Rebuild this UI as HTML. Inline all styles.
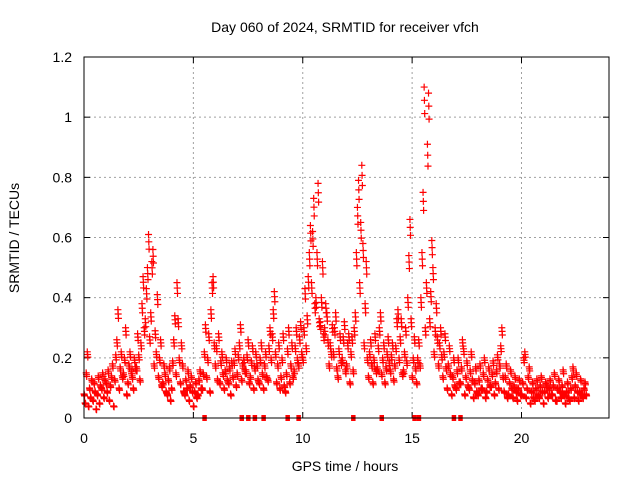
<!DOCTYPE html>
<html><head><meta charset="utf-8"><style>
body{margin:0;background:#fff}
svg{display:block;font-family:"Liberation Sans",sans-serif}
</style></head><body>
<svg id="chart" width="640" height="480" viewBox="0 0 640 480">
<rect width="640" height="480" fill="#fff"/>
<text x="345" y="32" font-size="14" text-anchor="middle">Day 060 of 2024, SRMTID for receiver vfch</text>
<text x="345" y="471" font-size="14" text-anchor="middle">GPS time / hours</text>
<text transform="translate(19,238) rotate(-90)" font-size="14" text-anchor="middle">SRMTID / TECUs</text>
<g id="grid"></g><g id="axes"></g><g id="marks"></g>
<rect x="84" y="57" width="525" height="361" fill="none" stroke="#000" stroke-width="1"/>
</svg>
<script>
const xTicks=[0,5,10,15,20];
const yTicks=[0,0.2,0.4,0.6,0.8,1,1.2];
const yTickLabels=["0","0.2","0.4","0.6","0.8","1","1.2"];
const rowTimes=[0.0,0.2,0.4,0.6,0.8,1.0,1.2,1.4,1.6,1.8,2.0,2.2,2.4,2.6,2.8,3.0,3.2,3.4,3.6,3.8,4.0,4.2,4.4,4.6,4.8,5.0,5.2,5.4,5.6,5.8,6.0,6.2,6.4,6.6,6.8,7.0,7.2,7.4,7.6,7.8,8.0,8.2,8.4,8.6,8.8,9.0,9.2,9.4,9.6,9.8,10.0,10.2,10.4,10.6,10.8,11.0,11.2,11.4,11.6,11.8,12.0,12.2,12.4,12.6,12.8,13.0,13.2,13.4,13.6,13.8,14.0,14.2,14.4,14.6,14.8,15.0,15.2,15.4,15.6,15.8,16.0,16.2,16.4,16.6,16.8,17.0,17.2,17.4,17.6,17.8,18.0,18.2,18.4,18.6,18.8,19.0,19.2,19.4,19.6,19.8,20.0,20.2,20.4,20.6,20.8,21.0,21.2,21.4,21.6,21.8,22.0,22.2,22.4,22.6,22.8];
const rowValues=[
[.08,.05,.15,.22],[.04,.10,.07,.13],[.06,.12,.09,.03],[.08,.14,.05,.11],[.10,.15,.07,.13],
[.12,.09,.16,.06],[.11,.14,.18,.04],[.13,.21,.26,.36],[.10,.17,.22,.14],[.15,.20,.30,.08],
[.12,.18,.22,.16],[.14,.10,.20,.17],[.17,.28,.21,.13],[.25,.38,.47,.30],[.33,.43,.50,.61],
[.27,.35,.52,.56],[.18,.29,.22,.41],[.14,.20,.26,.11],[.12,.18,.15,.09],[.08,.13,.17,.06],
[.10,.19,.26,.34],[.15,.45,.33,.20],[.12,.25,.18,.09],[.08,.13,.10,.16],[.06,.11,.14,.09],
[.04,.09,.12,.07],[.08,.13,.16,.10],[.10,.15,.22,.31],[.14,.20,.28,.09],[.36,.45,.47,.25],
[.18,.24,.13,.28],[.12,.19,.22,.15],[.10,.16,.20,.13],[.12,.17,.08,.19],[.14,.19,.23,.11],
[.15,.21,.25,.31],[.13,.18,.20,.16],[.16,.21,.26,.12],[.14,.19,.24,.10],[.17,.22,.18,.13],
[.12,.20,.25,.15],[.10,.18,.22,.14],[.13,.24,.30,.20],[.28,.36,.42,.22],[.12,.18,.25,.10],
[.14,.20,.28,.11],[.09,.15,.23,.30],[.12,.18,.25,.14],[.16,.24,.30,.20],[.18,.27,.32,.22],
[.20,.30,.43,.24],[.34,.47,.55,.64],[.45,.62,.73,.38],[.40,.55,.78,.33],[.32,.40,.52,.28],
[.30,.38,.35,.26],[.18,.25,.22,.31],[.22,.30,.35,.17],[.14,.23,.28,.19],[.20,.27,.32,.16],
[.18,.25,.28,.12],[.22,.27,.16,.30],[.35,.55,.70,.79],[.45,.65,.84,.58],[.25,.38,.52,.20],
[.14,.22,.26,.18],[.12,.20,.28,.16],[.17,.24,.30,.35],[.15,.20,.25,.12],[.17,.22,.27,.19],
[.16,.21,.25,.13],[.18,.24,.33,.36],[.20,.27,.33,.15],[.16,.22,.30,.19],[.40,.54,.66,.33],
[.14,.20,.27,.17],[.12,.20,.26,.18],[.40,.55,.75,1.10],[.30,.45,.91,1.08],[.33,.42,.59,.50],
[.22,.30,.38,.27],[.18,.25,.30,.21],[.14,.22,.28,.17],[.10,.18,.24,.15],[.08,.14,.20,.11],
[.10,.16,.20,.12],[.12,.17,.26,.23],[.08,.14,.19,.11],[.10,.16,.22,.13],[.07,.12,.17,.09],
[.08,.13,.18,.10],[.10,.15,.20,.07],[.09,.13,.17,.11],[.11,.15,.19,.08],[.12,.16,.21,.10],
[.18,.24,.30,.14],[.09,.14,.18,.07],[.08,.12,.16,.10],[.07,.11,.14,.09],[.06,.10,.13,.08],
[.08,.12,.20,.22],[.07,.10,.14,.17],[.05,.09,.12,.07],[.06,.10,.13,.08],[.07,.11,.14,.09],
[.05,.09,.12,.11],[.07,.10,.13,.08],[.08,.11,.15,.06],[.06,.10,.13,.09],[.07,.11,.16,.08],
[.05,.09,.12,.07],[.06,.10,.14,.17],[.07,.11,.15,.09],[.06,.09,.13,.08],[.07,.10,.12,.08]];
const zeroTimes=[5.5,7.2,7.5,7.8,8.2,9.3,9.8,12.3,13.6,15.1,15.3,16.9,17.2];

const X0=84,X1=609,Y0=418,Y1=57,XMAX=24,YMAX=1.2;
function xs(t){return X0+(X1-X0)*t/XMAX;}
function ys(v){return Y0-(Y0-Y1)*v/YMAX;}
const NS="http://www.w3.org/2000/svg";
function mk(tag,attrs,parent){const e=document.createElementNS(NS,tag);for(const k in attrs)e.setAttribute(k,attrs[k]);parent.appendChild(e);return e;}
const grid=document.getElementById('grid'),axes=document.getElementById('axes'),marks=document.getElementById('marks');
xTicks.forEach(t=>{
  const x=xs(t);
  if(t>0){const g=mk('line',{x1:x,x2:x,y1:Y1,y2:Y0,stroke:'#a0a0a0','stroke-dasharray':'2,3'},grid);
  
  }
  mk('line',{x1:x,x2:x,y1:Y0,y2:Y0-6,stroke:'#000'},axes);
  mk('line',{x1:x,x2:x,y1:Y1,y2:Y1+6,stroke:'#000'},axes);
  const l=mk('text',{x:x,y:443,'font-size':14,'text-anchor':'middle'},axes);
  l.textContent=t;
  
  
});
yTicks.forEach((v,i)=>{
  const y=ys(v);
  if(v>0&&v<YMAX){const g=mk('line',{x1:X0,x2:X1,y1:y,y2:y,stroke:'#a0a0a0','stroke-dasharray':'2,3'},grid);
  
  }
  mk('line',{x1:X0,x2:X0+6,y1:y,y2:y,stroke:'#000'},axes);
  mk('line',{x1:X1,x2:X1-6,y1:y,y2:y,stroke:'#000'},axes);
  const l=mk('text',{x:72,y:y+5,'font-size':14,'text-anchor':'end'},axes);
  l.textContent=yTickLabels[i];
  
  
});
const offs=[0,0.05,0.1,0.15];
const jitter=[[0,1],[0.025,0.92],[0.0125,0.96]];
rowTimes.forEach((t,r)=>{
  rowValues[r].forEach((v,j)=>{
    jitter.forEach(([d,f])=>{
      const x=xs(t+offs[j]+d),y=ys(v*f);
      const p=mk('path',{d:`M${x-3.5},${y}h7M${x},${y-3.5}v7`,stroke:'#f00','stroke-width':1.2,fill:'none'},marks);
      
      
    });
  });
});
zeroTimes.forEach(t=>{
  const s=mk('rect',{x:xs(t)-2,y:Y0-3,width:4.5,height:6,fill:'#f00'},marks);
  
  
});
</script>
</body></html>
